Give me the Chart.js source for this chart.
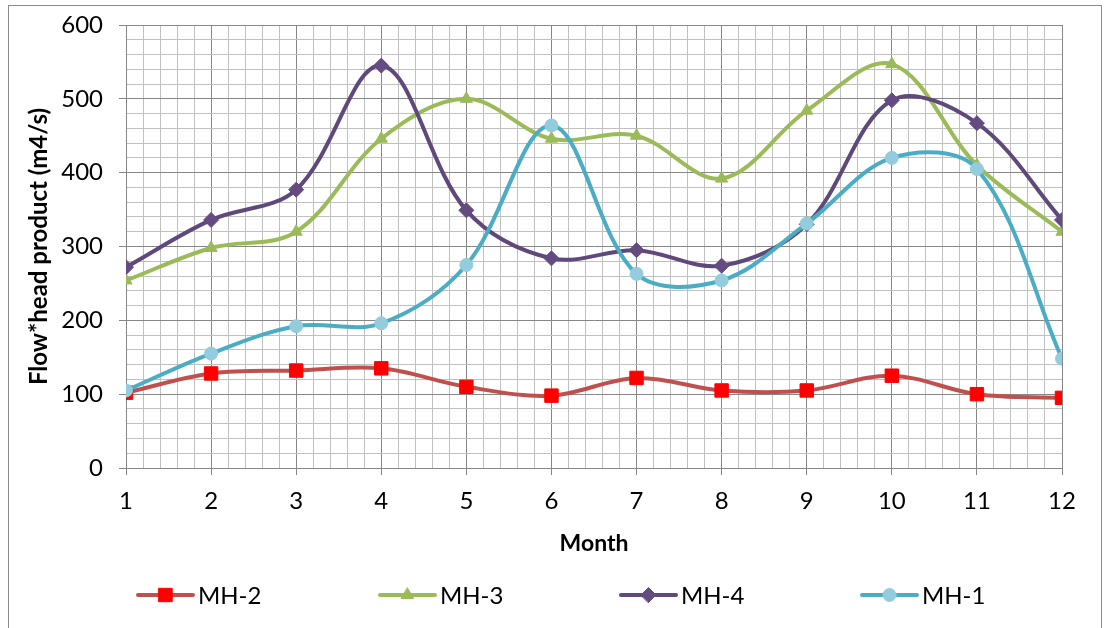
<!DOCTYPE html>
<html>
<head>
<meta charset="utf-8">
<script src="https://cdn.jsdelivr.net/npm/chart.js@4.4.1/dist/chart.umd.min.js"></script>
<style>
  html, body { margin: 0; padding: 0; background: #ffffff; }
  #wrap { width: 1104px; height: 628px; position: relative; }
</style>
</head>
<body>
<div id="wrap"><canvas id="chart" width="1104" height="628"></canvas></div>
<script>
// Months on the x axis
const months = [1, 2, 3, 4, 5, 6, 7, 8, 9, 10, 11, 12];

// Flow*head product (m4/s) per month for each site
const mh2 = [102, 128, 132, 135, 110, 98, 122, 105, 105, 125, 100, 95];
const mh3 = [254, 298, 320, 446, 500, 446, 450, 392, 484, 547, 410, 320];
const mh4 = [272, 336, 377, 545, 349, 284, 295, 274, 330, 498, 467, 336];
const mh1 = [105, 155, 192, 196, 275, 464, 263, 254, 331, 420, 405, 148];

// Axis tick labels
const yTickLabels = [0, 100, 200, 300, 400, 500, 600];
const xTickLabels = months;

const FONT = "Lato, 'Open Sans', sans-serif";
const MAJOR = '#878787';
const MINOR = '#c0c0c0';

function pts(vals) {
  return months.map((m, i) => ({ x: m, y: vals[i] }));
}

const series = [
  { label: 'MH-2', data: mh2, line: '#c0504d', fill: '#ff0000', style: 'rect', radius: 9.5, order: 3 },
  { label: 'MH-3', data: mh3, line: '#9bbb59', fill: '#9bbb59', style: 'triangle', radius: 7, order: 2 },
  { label: 'MH-4', data: mh4, line: '#5f497a', fill: '#644c82', style: 'rectRot', radius: 7.5, order: 1 },
  { label: 'MH-1', data: mh1, line: '#4bacc6', fill: '#93cddd', style: 'circle', radius: 6.5, order: 0 }
];

function isWhole(v, step) {
  const q = v / step;
  return Math.abs(q - Math.round(q)) < 1e-6;
}

// Outer frame around the chart
const framePlugin = {
  id: 'frame',
  beforeDraw(chart) {
    const ctx = chart.ctx;
    ctx.save();
    ctx.fillStyle = '#ffffff';
    ctx.fillRect(0, 0, chart.width, chart.height);
    ctx.strokeStyle = '#8c8c8c';
    ctx.lineWidth = 1;
    ctx.strokeRect(8.5, 5.5, 1093, 640);
    ctx.restore();
  }
};

// Legend row: line segment with the series marker, then its name
const legendPlugin = {
  id: 'lineLegend',
  afterDraw(chart) {
    const ctx = chart.ctx;
    const y = 595;
    const starts = [138, 380, 621, 862];
    ctx.save();
    series.forEach((s, i) => {
      const x0 = starts[i];
      ctx.strokeStyle = s.line;
      ctx.lineWidth = 4;
      ctx.lineCap = 'round';
      ctx.beginPath();
      ctx.moveTo(x0, y);
      ctx.lineTo(x0 + 55, y);
      ctx.stroke();
      ctx.fillStyle = s.fill;
      ctx.strokeStyle = s.fill;
      ctx.lineWidth = 1;
      Chart.helpers.drawPoint(ctx, { pointStyle: s.style, radius: s.radius, borderWidth: 1, rotation: 0 }, x0 + 27.5, y);
      ctx.fillStyle = '#000000';
      ctx.font = '24px ' + FONT;
      ctx.textAlign = 'left';
      ctx.textBaseline = 'middle';
      ctx.fillText(s.label, x0 + 60, y + 1);
    });
    ctx.restore();
  }
};

const datasets = series.map(s => ({
  label: s.label,
  data: pts(s.data),
  borderColor: s.line,
  backgroundColor: s.fill,
  borderWidth: 4,
  tension: 0.35,
  pointStyle: s.style,
  pointRadius: s.radius,
  pointHoverRadius: s.radius,
  pointBackgroundColor: s.fill,
  pointBorderColor: s.fill,
  pointBorderWidth: 1,
  order: s.order
}));

new Chart(document.getElementById('chart'), {
  type: 'line',
  data: { datasets },
  plugins: [framePlugin, legendPlugin],
  options: {
    responsive: false,
    animation: false,
    devicePixelRatio: 1,
    layout: { padding: { top: 25, right: 42, bottom: 68, left: 0 } },
    plugins: { legend: { display: false }, tooltip: { enabled: false } },
    scales: {
      x: {
        type: 'linear',
        min: xTickLabels[0],
        max: xTickLabels[xTickLabels.length - 1],
        afterFit(scale) { scale.height = 92; },
        ticks: {
          stepSize: 0.2,
          autoSkip: false,
          maxRotation: 0,
          padding: 12,
          color: '#000000',
          font: { family: FONT, size: 24 },
          callback: v => (isWhole(v, 1) ? String(Math.round(v)) : '')
        },
        grid: {
          color: c => (isWhole(c.tick.value, 1) ? MAJOR : MINOR),
          tickColor: c => (isWhole(c.tick.value, 1) ? MAJOR : 'rgba(0,0,0,0)'),
          tickLength: 7,
          lineWidth: 1
        },
        border: { color: MAJOR, width: 1 },
        title: {
          display: true,
          text: 'Month',
          color: '#000000',
          font: { family: FONT, size: 23, weight: 'bold' },
          padding: { top: 4, bottom: 3 }
        }
      },
      y: {
        min: yTickLabels[0],
        max: yTickLabels[yTickLabels.length - 1],
        afterFit(scale) { scale.width = 126; scale.paddingTop = 0; scale.paddingBottom = 0; },
        ticks: {
          stepSize: 20,
          autoSkip: false,
          padding: 16,
          color: '#000000',
          font: { family: FONT, size: 24 },
          callback: v => (yTickLabels.includes(Math.round(v)) && isWhole(v, 100) ? String(Math.round(v)) : '')
        },
        grid: {
          color: c => (isWhole(c.tick.value, 100) ? MAJOR : MINOR),
          tickColor: c => (isWhole(c.tick.value, 100) ? MAJOR : 'rgba(0,0,0,0)'),
          tickLength: 7,
          lineWidth: 1
        },
        border: { color: MAJOR, width: 1 },
        title: {
          display: true,
          text: 'Flow*head product (m4/s)',
          color: '#000000',
          font: { family: FONT, size: 24, weight: 'bold' },
          padding: { top: 25, bottom: 0 }
        }
      }
    }
  }
});
</script>
</body>
</html>
